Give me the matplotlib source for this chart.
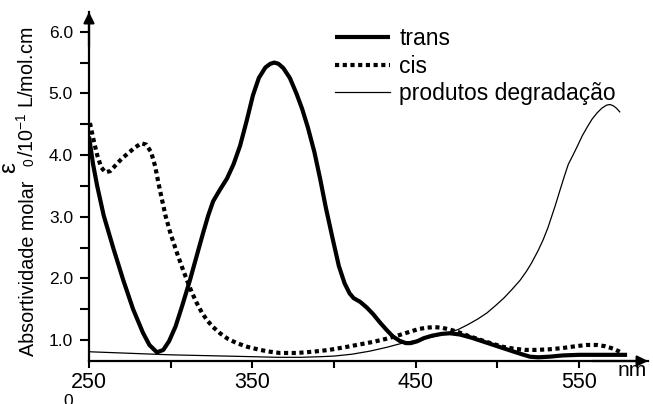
import matplotlib
matplotlib.use("Agg")
import matplotlib.pyplot as plt
from matplotlib.ticker import FixedLocator, MultipleLocator

plt.rcParams['font.family'] = ['Liberation Sans', 'DejaVu Sans']
plt.rcParams['mathtext.fontset'] = 'custom'
plt.rcParams['mathtext.rm'] = 'Liberation Sans'
plt.rcParams['mathtext.it'] = 'Liberation Sans:italic'

# ---- data ----
trans_x = [250, 252.5, 255, 259, 265, 271, 277, 283, 287, 291.6, 295.5, 299, 303, 307,
           311.8, 316, 319.8, 323, 326, 330, 334.5, 338.5, 342.5, 346.5, 350.4, 354, 358,
           361, 363.5, 366, 369, 373, 377, 380.5, 384, 388, 391.5, 395, 399.4, 403,
           406.5, 409.5, 412, 416, 420, 424, 428, 432, 436, 440, 444, 447, 451, 455,
           460, 466, 471, 477, 484, 492, 500, 508, 515, 520, 525, 532, 540, 550, 565,
           579.5]
trans_y = [4.30, 3.85, 3.50, 3.02, 2.48, 1.97, 1.50, 1.12, 0.92, 0.80, 0.84, 0.98, 1.22,
           1.55, 1.97, 2.37, 2.73, 3.02, 3.25, 3.43, 3.62, 3.85, 4.15, 4.55, 4.97, 5.25,
           5.42, 5.48, 5.50, 5.48, 5.41, 5.25, 5.00, 4.75, 4.45, 4.05, 3.62, 3.15, 2.62,
           2.20, 1.92, 1.76, 1.68, 1.62, 1.53, 1.42, 1.29, 1.17, 1.06, 0.99, 0.95, 0.95,
           0.98, 1.03, 1.07, 1.10, 1.11, 1.09, 1.04, 0.97, 0.90, 0.83, 0.77, 0.73, 0.72,
           0.73, 0.75, 0.76, 0.76, 0.76]

cis_x = [250.6, 252.5, 255, 257.5, 260, 263, 266.5, 270, 274, 278, 282, 285, 288, 290.5,
         292.5, 294.5, 297, 300, 303.9, 307, 310, 313, 316, 319, 322.3, 326, 330.2, 335,
         340.5, 347, 354.7, 361, 367, 377, 387, 397, 408, 416, 424, 432, 440, 446, 452,
         457, 461, 466, 471, 476, 482, 490, 497, 503.5, 510, 517, 524, 532, 540, 548,
         555, 561, 566, 571, 575]
cis_y = [4.52, 4.28, 4.00, 3.80, 3.72, 3.74, 3.84, 3.94, 4.03, 4.12, 4.19, 4.17, 4.05,
         3.82, 3.55, 3.30, 3.00, 2.72, 2.41, 2.18, 1.97, 1.77, 1.60, 1.45, 1.32, 1.21,
         1.11, 1.02, 0.95, 0.89, 0.84, 0.81, 0.79, 0.79, 0.81, 0.84, 0.89, 0.93, 0.97,
         1.02, 1.08, 1.13, 1.18, 1.20, 1.21, 1.20, 1.17, 1.13, 1.07, 1.00, 0.94, 0.89,
         0.86, 0.84, 0.84, 0.85, 0.87, 0.90, 0.92, 0.92, 0.90, 0.86, 0.81]

deg_x = [250, 275, 300, 325, 350, 365, 380, 392, 400, 411, 422, 432, 442, 455, 462, 469,
         476, 482, 488, 493.7, 499, 504, 509, 514, 518, 521, 525, 528, 531, 533, 535.5,
         538.4, 541, 543.5, 546, 548.8, 552, 555, 558, 561, 564, 567, 569, 571, 573, 575]
deg_y = [0.81, 0.785, 0.76, 0.745, 0.73, 0.72, 0.72, 0.73, 0.74, 0.77, 0.82, 0.88, 0.95,
         1.02, 1.06, 1.11, 1.17, 1.25, 1.34, 1.44, 1.56, 1.68, 1.82, 1.97, 2.12, 2.25,
         2.45, 2.62, 2.82, 2.98, 3.18, 3.43, 3.65, 3.85, 3.98, 4.13, 4.31, 4.45, 4.58,
         4.68, 4.76, 4.81, 4.82, 4.80, 4.76, 4.70]

x_major = [250, 350, 450, 550]
x_minor = [300, 400, 500]
y_major = [1, 2, 3, 4, 5, 6]
y_labels = ['1.0', '2.0', '3.0', '4.0', '5.0', '6.0']
series_labels = ['trans', 'cis', 'produtos degradação']

# ---- figure ----
W, H = 653, 404
fig = plt.figure(figsize=(W / 100, H / 100), dpi=100)
ax = fig.add_axes([89 / W, (H - 361) / H, (648 - 89) / W, (361 - 12) / H])

ax.plot(trans_x, trans_y, color='black', lw=3.0, solid_capstyle='butt',
        solid_joinstyle='round', label=series_labels[0])
ax.plot(cis_x, cis_y, color='black', lw=3.0, linestyle=(0, (1.0, 0.85)),
        dash_capstyle='butt', label=series_labels[1])
ax.plot(deg_x, deg_y, color='black', lw=0.9, label=series_labels[2])

ax.set_xlim(250, 592.3)
ax.set_ylim(0.66, 6.32)

for s in ['top', 'right']:
    ax.spines[s].set_visible(False)
for s in ['left', 'bottom']:
    ax.spines[s].set_linewidth(1.6)

ax.xaxis.set_major_locator(FixedLocator(x_major))
ax.xaxis.set_minor_locator(FixedLocator(x_minor))
ax.set_xticklabels([str(v) for v in x_major])
ax.yaxis.set_major_locator(FixedLocator(y_major))
ax.yaxis.set_minor_locator(MultipleLocator(0.5))
ax.set_yticklabels(y_labels)

ax.tick_params(axis='x', which='both', direction='out', length=5, width=1.5,
               labelsize=15.5, pad=3)
ax.tick_params(axis='y', which='both', direction='out', length=6.5, width=1.5,
               labelsize=12.5, pad=5)

# cut-off "0" label of the y scale, below the x axis
ax.annotate('0', xy=(0, 0), xycoords=('axes fraction', 'data'),
            xytext=(-11.5, 0), textcoords='offset points', ha='right', va='center',
            fontsize=12.5, annotation_clip=False)

# axis arrows
ax.annotate('', xy=(0, 1), xytext=(0, 0.9), xycoords='axes fraction',
            arrowprops=dict(arrowstyle='-|>', color='black', lw=1.6,
                            mutation_scale=16, shrinkA=0, shrinkB=0))
ax.annotate('', xy=(1, 0), xytext=(0.9, 0), xycoords='axes fraction',
            arrowprops=dict(arrowstyle='-|>', color='black', lw=1.6,
                            mutation_scale=16, shrinkA=0, shrinkB=0))

ax.text(632 / W, (H - 371) / H, 'nm', transform=fig.transFigure,
        ha='center', va='center', fontsize=15)

# y-axis title built from pieces (large raised epsilon as in the reference)
renderer = fig.canvas.get_renderer()
base_x = 33.5
kw = dict(rotation=90, rotation_mode='anchor', ha='left', va='baseline')
t1 = fig.text(base_x / W, (H - 356) / H, 'Absortividade molar', fontsize=14.2, **kw)
e1 = t1.get_window_extent(renderer)
t2 = fig.text((base_x - 18) / W, (e1.y1 + 8) / H, 'ε', fontsize=17.5, **kw)
e2 = t2.get_window_extent(renderer)
t3 = fig.text(base_x / W, (e2.y1 - 4) / H, '0', fontsize=10, **kw)
e3 = t3.get_window_extent(renderer)
fig.text(base_x / W, (e3.y1 + 1) / H, r'/10$^{-1}$ L/mol.cm', fontsize=14.2, **kw)

leg = ax.legend(loc='upper left', bbox_to_anchor=(335 / W, (H - 27) / H),
                bbox_transform=fig.transFigure, frameon=False, fontsize=16.5,
                handlelength=2.4, handletextpad=0.4, labelspacing=0.2,
                borderpad=0, borderaxespad=0)

fig.savefig('out.png', dpi=100)
